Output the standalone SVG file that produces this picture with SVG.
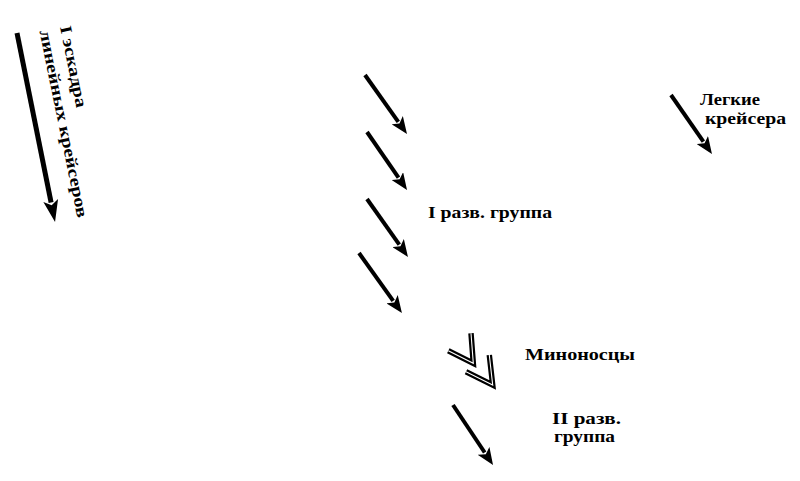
<svg xmlns="http://www.w3.org/2000/svg" width="800" height="481" viewBox="0 0 800 481">
<style>
.lbl{font-family:"Liberation Serif","DejaVu Serif",serif;font-weight:bold;font-size:16.5px;fill:#000}
.arr{stroke:#000;stroke-width:4;fill:none}
.big{stroke:#000;stroke-width:5;fill:none}
.chevO{stroke:#000;stroke-width:5.5;fill:none;stroke-linejoin:miter}
.chevI{stroke:#fff;stroke-width:1.1;fill:none;stroke-linejoin:miter}
</style>
<defs>
<marker id="head" markerUnits="userSpaceOnUse" markerWidth="18" markerHeight="14" viewBox="0 0 18 14" refX="2" refY="7" orient="auto">
<path d="M0,0 L17,7 L0,14 L4,7 Z" fill="#000"/>
</marker>
<marker id="headBig" markerUnits="userSpaceOnUse" markerWidth="24" markerHeight="15" viewBox="0 0 24 15" refX="2" refY="7.5" orient="auto">
<path d="M0,0 L22,7.5 L0,15 L5,7.5 Z" fill="#000"/>
</marker>
</defs>
<rect width="800" height="481" fill="#fff"/>
<g id="connectors">
<line class="big" x1="17" y1="33" x2="51.1" y2="202.4" marker-end="url(#headBig)"/>
<line class="arr" x1="365" y1="75" x2="398.3" y2="121.8" marker-end="url(#head)"/>
<line class="arr" x1="367" y1="132" x2="398.5" y2="177.7" marker-end="url(#head)"/>
<line class="arr" x1="367" y1="199" x2="399.3" y2="244.7" marker-end="url(#head)"/>
<line class="arr" x1="359" y1="253" x2="393.2" y2="300.8" marker-end="url(#head)"/>
<line class="arr" x1="453" y1="405" x2="484.7" y2="452.5" marker-end="url(#head)"/>
<line class="arr" x1="671" y1="95" x2="703.4" y2="141.7" marker-end="url(#head)"/>
</g>
<g id="torpedo-boats">
<polyline class="chevO" points="448.3,350.7 473.3,363.3 471,333.3"/>
<polyline class="chevI" points="448.3,350.7 473.3,363.3 471,333.3"/>
<polyline class="chevO" points="466,371.7 492.7,385 489.3,355"/>
<polyline class="chevI" points="466,371.7 492.7,385 489.3,355"/>
</g>
<g id="node-battlecruisers">
<text class="lbl" font-size="17" transform="translate(60,27) rotate(78.5)"><tspan x="0" y="0" textLength="83" lengthAdjust="spacingAndGlyphs">I эскадра</tspan><tspan x="0" y="21" textLength="191" lengthAdjust="spacingAndGlyphs">линейных крейсеров</tspan></text>
</g>
<g id="node-light-cruisers">
<text class="lbl" x="700" y="105" textLength="60" lengthAdjust="spacingAndGlyphs">Легкие</text>
<text class="lbl" x="705" y="124" textLength="81" lengthAdjust="spacingAndGlyphs">крейсера</text>
</g>
<g id="node-scout-group-1">
<text class="lbl" x="428" y="218" textLength="124" lengthAdjust="spacingAndGlyphs">I разв. группа</text>
</g>
<g id="node-destroyers">
<text class="lbl" x="525" y="360" textLength="110" lengthAdjust="spacingAndGlyphs">Миноносцы</text>
</g>
<g id="node-scout-group-2">
<text class="lbl" x="552" y="424" textLength="69" lengthAdjust="spacingAndGlyphs">II разв.</text>
<text class="lbl" x="554" y="442" textLength="61" lengthAdjust="spacingAndGlyphs">группа</text>
</g>
</svg>
